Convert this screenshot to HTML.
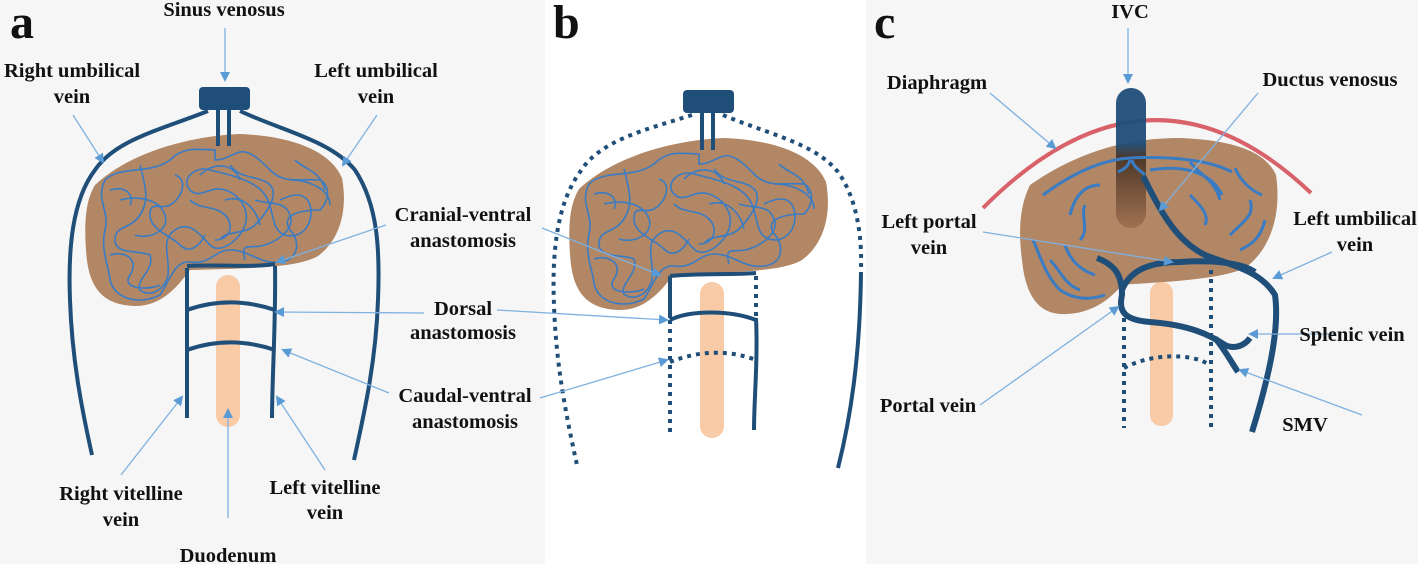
<!DOCTYPE html>
<html><head><meta charset="utf-8"><style>
html,body{margin:0;padding:0;background:#fff}
svg{display:block}
text{font-family:"Liberation Serif",serif;font-weight:bold;font-size:20.5px;fill:#111;text-anchor:middle}
.L{font-size:48px;text-anchor:start}
</style></head><body>
<svg width="1418" height="564" viewBox="0 0 1418 564" xmlns="http://www.w3.org/2000/svg">
<defs>
<marker id="ar" markerWidth="10" markerHeight="10" refX="8" refY="5" orient="auto" markerUnits="userSpaceOnUse">
<path d="M0,0 L10,5 L0,10 z" fill="#5b9bd5"/></marker>
<linearGradient id="ivc" x1="0" y1="0" x2="0" y2="1">
<stop offset="0" stop-color="#1f4e79"/><stop offset="0.4" stop-color="#1f4e79"/><stop offset="0.5" stop-color="#4a3426"/><stop offset="1" stop-color="#a07050"/></linearGradient>
<g id="liverA">
<path d="M95,185 C130,152 190,136 240,134 C290,136 330,150 342,178 C348,210 340,240 318,256 C300,266 270,268 190,270 C175,290 160,306 135,306 C100,305 88,285 86,250 C84,220 86,200 95,185 Z" fill="#b18766"/>
<g fill="none" stroke="#3a7cc4" stroke-width="1.6">
<path d="M215,150 C200,150 185,145 170,160 C150,175 120,165 105,180 C95,200 110,210 105,230 C100,250 110,270 110,280 C115,300 140,305 160,295 C170,280 175,260 190,262 C210,265 215,250 230,250 C250,250 260,265 280,262 C300,260 300,240 290,230 C280,215 300,210 320,210 C330,200 330,185 320,180 C300,178 285,185 270,170 C260,160 250,150 240,152 C230,155 225,160 215,160 Z"/>
<path d="M140,165 C145,185 150,200 140,215 C130,230 115,225 115,240 C115,255 140,250 150,255 C155,270 135,280 140,290 C150,298 165,290 168,275 C170,255 160,240 175,230 C190,220 200,235 210,245 C220,255 240,240 245,225 C250,210 240,195 225,190 C210,185 200,200 190,190 C180,180 195,165 210,170 C230,175 255,180 265,195 C275,210 270,230 285,235 C300,240 315,225 310,205 C305,190 290,195 280,200"/>
<path d="M175,175 C190,180 180,200 170,205 C160,210 150,200 150,215 C150,230 170,235 180,245 C190,255 200,245 205,235 M230,165 C240,180 260,175 270,185 C280,195 265,215 255,225 C245,235 225,230 220,240 M255,200 C270,205 285,200 290,215 C295,228 280,240 265,245 C250,250 240,240 245,260 M110,190 C125,185 135,195 130,205 M295,160 C305,170 320,170 325,190 M190,200 C200,210 215,205 225,215 C235,225 230,240 215,240"/>
<path d="M120,200 C140,195 160,200 165,215 C170,230 150,240 135,235 M200,175 C215,160 235,165 240,180 M290,180 C310,180 330,190 330,205 M110,255 C125,250 140,260 130,275 C120,290 150,290 160,285 M225,200 C240,195 255,205 260,225"/>
</g>
</g>
</defs>

<rect x="0" y="0" width="545" height="564" fill="#f6f6f6"/>
<rect x="866" y="0" width="552" height="564" fill="#f6f6f6"/>

<!-- Panel a -->
<text class="L" x="10" y="38">a</text>
<rect x="216" y="275" width="24" height="152" rx="12" fill="#f8caa6"/>
<use href="#liverA"/>
<g fill="none" stroke="#1f4e79" stroke-width="4">
<path d="M218,108 V146 M229,108 V146"/>
<path d="M208,111 C160,130 115,140 95,170 C72,200 68,250 70,300 C72,360 82,410 92,455"/>
<path d="M240,111 C280,130 330,140 355,170 C378,205 380,250 378,300 C376,360 365,410 354,460"/>
<path d="M187,266 C220,264 250,268 275,264"/>
<path d="M187,268 V418 M275,266 C276,320 272,380 272,418"/>
<path d="M187,310 C215,300 245,300 275,310"/>
<path d="M187,350 C215,340 245,340 275,350"/>
</g>
<rect x="199" y="87" width="51" height="23" rx="4" fill="#1f4e79"/>

<!-- Panel b -->
<text class="L" x="553" y="38">b</text>
<rect x="700" y="282" width="24" height="156" rx="12" fill="#f8caa6"/>
<use href="#liverA" transform="translate(484,4)"/>
<g fill="none" stroke="#1f4e79" stroke-width="4">
<path d="M702,112 V150 M713,112 V150"/>
<path d="M670,276 C700,273 730,275 756,273"/>
<path d="M670,276 V318 M756,318 C758,360 754,400 754,430"/>
<path d="M670,320 C690,310 730,310 756,320"/>
</g>
<g fill="none" stroke="#1f4e79" stroke-width="4" stroke-dasharray="4,5">
<path d="M692,115 C645,130 600,140 580,172 C556,205 552,255 554,305 C556,365 566,415 577,465"/>
<path d="M723,115 C765,133 815,143 838,172 C858,200 862,240 861,268"/>
<path d="M670,320 V432 M756,276 V318"/>
<path d="M670,362 C700,350 730,350 756,360"/>
</g>
<path d="M861,272 C860,360 850,420 838,468" fill="none" stroke="#1f4e79" stroke-width="4"/>
<rect x="683" y="90" width="51" height="23" rx="4" fill="#1f4e79"/>

<!-- Panel c -->
<text class="L" x="874" y="38">c</text>
<path d="M983,208 Q1150,40 1311,193" fill="none" stroke="#d9626a" stroke-width="4"/>
<rect x="1150" y="282" width="23" height="144" rx="11" fill="#f8caa6"/>
<path d="M1030,185 C1080,150 1130,138 1180,138 C1230,140 1265,150 1276,175 C1282,215 1270,250 1245,268 C1220,280 1160,282 1122,285 C1105,305 1085,315 1060,314 C1035,312 1025,290 1022,260 C1018,230 1020,205 1030,185 Z" fill="#b18766"/>
<rect x="1116" y="88" width="30" height="140" rx="15" fill="url(#ivc)" opacity="0.95"/>
<g fill="none" stroke="#3a7cc4" stroke-width="3">
<path d="M1043,195 C1070,175 1100,160 1130,158 C1170,156 1210,160 1232,172"/>
<path d="M1130,160 C1128,168 1122,170 1118,172 M1132,160 C1134,168 1140,170 1145,175"/>
<path d="M1150,170 C1180,165 1210,170 1222,195 M1190,162 C1200,175 1215,180 1220,200 M1235,168 C1240,180 1250,190 1262,195"/>
<path d="M1070,215 C1075,195 1085,185 1100,185 M1080,240 C1090,230 1080,215 1085,205"/>
<path d="M1033,240 C1040,255 1045,275 1060,290 C1075,300 1090,300 1105,295"/>
<path d="M1050,260 C1060,270 1065,285 1080,290 M1065,245 C1070,260 1080,270 1095,275"/>
<path d="M1230,235 C1245,220 1255,215 1250,200 M1190,195 C1200,205 1210,215 1205,225 M1240,250 C1250,245 1260,240 1265,220"/>
</g>
<g fill="none" stroke="#1f4e79" stroke-width="6">
<path d="M1143,176 C1160,210 1175,240 1205,255 C1230,265 1260,270 1275,295 C1280,330 1268,380 1252,432"/>
<path d="M1097,258 C1115,265 1122,275 1122,295 C1118,312 1125,320 1150,322 C1190,325 1210,335 1225,345 C1235,350 1245,345 1250,338"/>
<path d="M1122,290 C1130,270 1150,262 1180,262 C1210,260 1240,262 1255,272"/>
<path d="M1215,338 C1225,350 1230,360 1238,372"/>
</g>
<g fill="none" stroke="#1f4e79" stroke-width="4" stroke-dasharray="4,5">
<path d="M1124,318 V428 M1211,270 V432"/>
<path d="M1124,368 C1150,354 1190,352 1210,365"/>
</g>

<!-- Arrows -->
<g fill="none" stroke="#7fb1e0" stroke-width="1.3" marker-end="url(#ar)">
<path d="M225,28 V80"/>
<path d="M73,115 L103,162"/>
<path d="M377,115 L343,165"/>
<path d="M386,225 L277,262"/>
<path d="M424,313 L276,312"/>
<path d="M389,393 L283,350"/>
<path d="M121,475 L182,397"/>
<path d="M325,470 L277,397"/>
<path d="M228,518 V410"/>
<path d="M542,228 L660,275"/>
<path d="M497,310 L667,320"/>
<path d="M540,398 L667,360"/>
<path d="M1128,28 V82"/>
<path d="M990,93 L1055,148"/>
<path d="M1258,93 L1160,210"/>
<path d="M983,232 L1172,262"/>
<path d="M1332,252 L1274,278"/>
<path d="M1335,334 L1250,334"/>
<path d="M980,405 L1118,307"/>
<path d="M1362,415 L1240,370"/>
</g>

<!-- Labels -->
<text x="224" y="16">Sinus venosus</text>
<text x="72" y="77">Right umbilical</text><text x="72" y="103">vein</text>
<text x="376" y="77">Left umbilical</text><text x="376" y="103">vein</text>
<text x="463" y="221">Cranial-ventral</text><text x="463" y="247">anastomosis</text>
<text x="463" y="315">Dorsal</text><text x="463" y="339">anastomosis</text>
<text x="465" y="402">Caudal-ventral</text><text x="465" y="428">anastomosis</text>
<text x="121" y="500">Right vitelline</text><text x="121" y="526">vein</text>
<text x="325" y="494">Left vitelline</text><text x="325" y="519">vein</text>
<text x="228" y="562">Duodenum</text>
<text x="1130" y="18">IVC</text>
<text x="937" y="89">Diaphragm</text>
<text x="1330" y="86">Ductus venosus</text>
<text x="929" y="228">Left portal</text><text x="929" y="254">vein</text>
<text x="1355" y="225">Left umbilical</text><text x="1355" y="251">vein</text>
<text x="1352" y="341">Splenic vein</text>
<text x="928" y="412">Portal vein</text>
<text x="1305" y="431">SMV</text>
</svg>
</body></html>
